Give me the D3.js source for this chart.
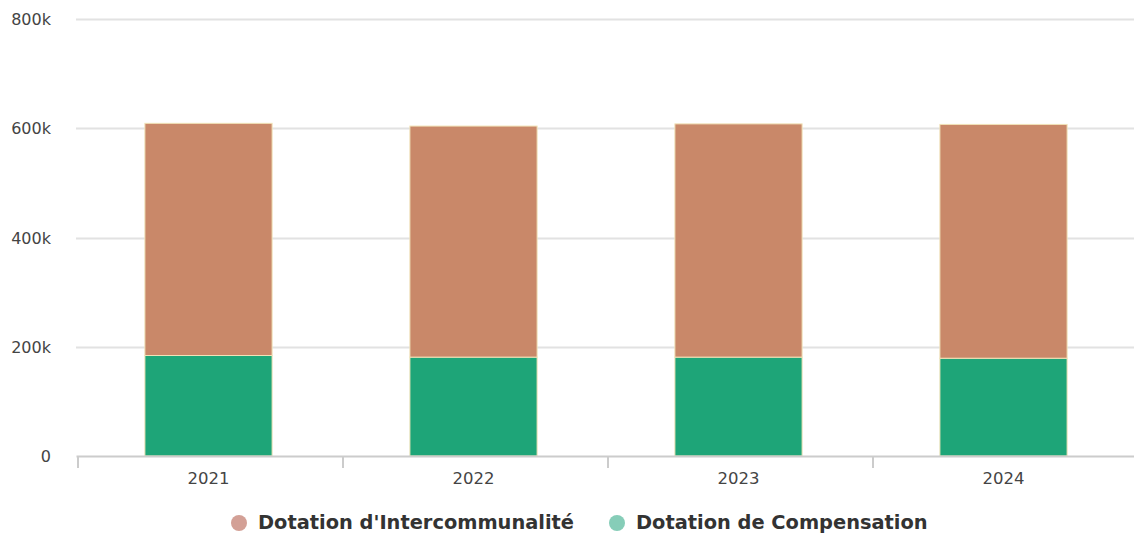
<!DOCTYPE html>
<html>
<head>
<meta charset="utf-8">
<script src="https://cdn.jsdelivr.net/npm/d3@7"></script>
<style>
  html, body { margin: 0; padding: 0; background: #fff; }
  svg { display: block; }
</style>
</head>
<body>
<svg id="chart" width="1134" height="534"></svg>
<script>
const categories = ["2021", "2022", "2023", "2024"];
const seriesNames = ["Dotation de Compensation", "Dotation d'Intercommunalité"];
const compensation = [184000, 181000, 181000, 179000];
const intercommunalite = [425000, 423000, 427000, 428000];
const yTicks = [0, 200000, 400000, 600000, 800000];
const yTickLabels = ["0", "200k", "400k", "600k", "800k"];

const colors = {
  "Dotation de Compensation": "#1ea578",
  "Dotation d'Intercommunalité": "#c98869"
};
const legendColors = {
  "Dotation d'Intercommunalité": "#d3a096",
  "Dotation de Compensation": "#86cdb8"
};

const svg = d3.select("#chart");
const plotLeft = 76, plotRight = 1136, plotTop = 19, plotBottom = 456;
const font = "DejaVu Sans, Verdana, sans-serif";

const x = d3.scaleBand().domain(categories).range([plotLeft, plotRight]).padding(0);
const y = d3.scaleLinear().domain([0, 800000]).range([plotBottom, plotTop]);

// gridlines
svg.append("g").selectAll("line").data(yTicks.filter(d => d > 0)).join("line")
  .attr("x1", plotLeft).attr("x2", 1134)
  .attr("y1", d => Math.round(y(d)) + 0.5).attr("y2", d => Math.round(y(d)) + 0.5)
  .attr("stroke", "#e2e2e2").attr("stroke-width", 2);

// y labels
svg.append("g").selectAll("text").data(yTicks).join("text")
  .attr("x", 51).attr("y", d => y(d) + 6)
  .attr("text-anchor", "end")
  .attr("font-family", font)
  .attr("font-size", 16)
  .attr("fill", "#444")
  .text((d, i) => yTickLabels[i]);

// stacked data
const rows = categories.map((c, i) => ({
  cat: c,
  "Dotation de Compensation": compensation[i],
  "Dotation d'Intercommunalité": intercommunalite[i]
}));
const stack = d3.stack().keys(seriesNames)(rows);

const barW = x.bandwidth() * 0.48;
svg.append("g").selectAll("g").data(stack).join("g")
  .attr("fill", d => colors[d.key])
  .selectAll("rect").data(d => d).join("rect")
  .attr("x", d => x(d.data.cat) + (x.bandwidth() - barW) / 2)
  .attr("width", barW)
  .attr("y", d => y(d[1]))
  .attr("height", d => y(d[0]) - y(d[1]))
  .attr("stroke", "#f1e3b8")
  .attr("stroke-width", 1);

// x axis
const xAxis = d3.axisBottom(x).tickSize(0).tickPadding(16);
const gx = svg.append("g").attr("transform", `translate(0,${plotBottom})`).call(xAxis);
gx.select(".domain").attr("stroke", "#cccccc").attr("stroke-width", 2);
gx.selectAll("text")
  .attr("font-family", font)
  .attr("font-size", 16.5)
  .attr("fill", "#444");
// boundary ticks
svg.append("g").selectAll("line").data(categories).join("line")
  .attr("x1", d => x(d) + 2).attr("x2", d => x(d) + 2)
  .attr("y1", plotBottom).attr("y2", plotBottom + 12)
  .attr("stroke", "#cccccc").attr("stroke-width", 2);

// legend
const legendItems = [
  { name: "Dotation d'Intercommunalité", cx: 239 },
  { name: "Dotation de Compensation", cx: 617 }
];
const lg = svg.append("g").selectAll("g").data(legendItems).join("g")
  .attr("transform", d => `translate(${d.cx},523)`);
lg.append("circle").attr("r", 8).attr("fill", d => legendColors[d.name]);
lg.append("text")
  .attr("x", 19).attr("y", 6)
  .attr("font-family", font)
  .attr("font-weight", "bold")
  .attr("font-size", 19.4)
  .attr("fill", "#333")
  .text(d => d.name);
</script>
</body>
</html>
